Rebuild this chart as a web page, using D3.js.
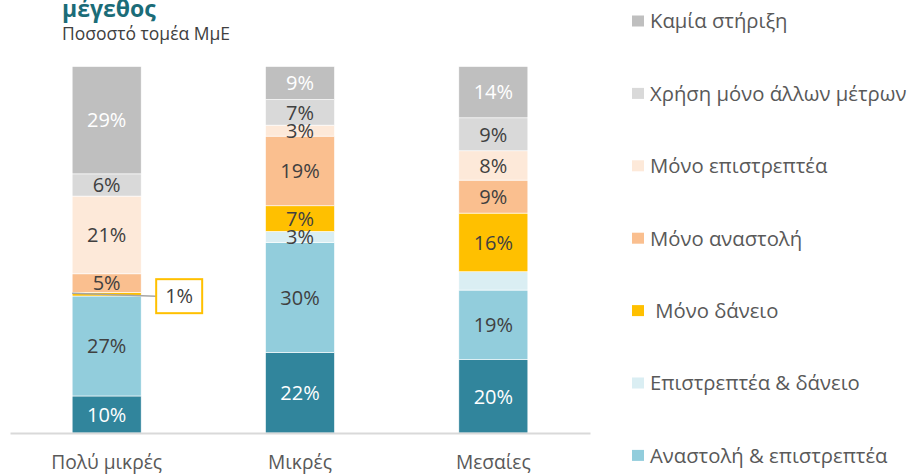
<!DOCTYPE html>
<html>
<head>
<meta charset="utf-8">
<script src="https://cdn.jsdelivr.net/npm/d3@7"></script>
<style>
  html, body { margin: 0; padding: 0; background: #fff; }
  svg { display: block; font-family: "Open Sans", "Noto Sans", sans-serif; }
</style>
</head>
<body>
<svg id="chart" width="917" height="476"></svg>
<script>
// ---- data ----
const categories = ["Πολύ μικρές", "Μικρές", "Μεσαίες"];
// series, bottom to top
const seriesNames = [
  "Αναστολή, επιστρεπτέα & δάνειο",
  "Αναστολή & επιστρεπτέα",
  "Επιστρεπτέα & δάνειο",
  "Μόνο δάνειο",
  "Μόνο αναστολή",
  "Μόνο επιστρεπτέα",
  "Χρήση μόνο άλλων μέτρων",
  "Καμία στήριξη"
];
const allThree      = [10, 22, 20];
const suspRefund    = [27, 30, 19];
const refundLoan    = [0, 3, 5];
const loanOnly      = [1, 7, 16];
const suspOnly      = [5, 19, 9];
const refundOnly    = [21, 3, 8];
const otherOnly     = [6, 7, 9];
const noSupport     = [29, 9, 14];
const seriesValues = [allThree, suspRefund, refundLoan, loanOnly, suspOnly, refundOnly, otherOnly, noSupport];
// labels not drawn inside the bars: [series index, category index]
const hiddenLabels = [[3, 0], [2, 2]];
// callout label
const callout = { series: 3, category: 0, text: "1%" };
// legend order (top to bottom); the last entry falls below the visible area
const legendOrder = [7, 6, 5, 4, 3, 2, 1];
const legendLabels = seriesNames.map((n, i) => i === 3 ? "\u00A0" + n : n);

// ---- styles ----
const colors = ["#31859C", "#92CDDC", "#DAEEF3", "#FFC000", "#FABF8F", "#FDE9D9", "#D9D9D9", "#BFBFBF"];
const labelColors = ["#ffffff", "#404040", "#404040", "#404040", "#404040", "#404040", "#404040", "#ffffff"];

const svg = d3.select("#chart");

// title
svg.append("text").attr("x", 62).attr("y", 17)
  .attr("font-size", 23).attr("font-weight", "bold").attr("fill", "#1B6C78")
  .text("μέγεθος");
svg.append("text").attr("x", 62).attr("y", 40)
  .attr("font-size", 17.5).attr("fill", "#404040")
  .text("Ποσοστό τομέα ΜμΕ");

// scales
const x = d3.scaleBand().domain(categories).range([10, 590])
  .paddingInner(0.643).paddingOuter(0.3215);
const y = d3.scaleLinear().domain([0, 1]).range([433, 66.5]);

const table = categories.map((c, ci) => {
  const row = { cat: c };
  seriesNames.forEach((s, si) => row[s] = seriesValues[si][ci]);
  return row;
});
const stack = d3.stack().keys(seriesNames).offset(d3.stackOffsetExpand);
const layers = stack(table);

const g = svg.append("g");
layers.forEach((layer, si) => {
  layer.forEach((d, ci) => {
    const val = seriesValues[si][ci];
    if (val <= 0) return;
    g.append("rect")
      .attr("x", x(categories[ci]))
      .attr("width", x.bandwidth())
      .attr("y", y(d[1]))
      .attr("height", y(d[0]) - y(d[1]))
      .attr("fill", colors[si])
      .attr("stroke", "#ffffff").attr("stroke-width", 0.6);
  });
});

// axis baseline
const xAxis = d3.axisBottom(x).tickSize(0).tickPadding(22);
const ax = svg.append("g").attr("transform", "translate(0,433)").call(xAxis);
ax.select(".domain").attr("stroke", "#D9D9D9").attr("stroke-width", 2);
ax.selectAll(".tick text").attr("font-size", 19.2).attr("fill", "#595959")
  .attr("font-family", "\"Open Sans\", sans-serif");

// labels
layers.forEach((layer, si) => {
  layer.forEach((d, ci) => {
    const val = seriesValues[si][ci];
    if (val <= 0) return;
    if (hiddenLabels.some(h => h[0] === si && h[1] === ci)) return;
    g.append("text")
      .attr("x", x(categories[ci]) + x.bandwidth() / 2)
      .attr("y", (y(d[0]) + y(d[1])) / 2)
      .attr("dy", "0.36em")
      .attr("text-anchor", "middle")
      .attr("font-size", 20)
      .attr("fill", labelColors[si])
      .text(val + "%");
  });
});

// callout
{
  const d = layers[callout.series][callout.category];
  const cy = (y(d[0]) + y(d[1])) / 2;
  const bx = x(categories[callout.category]);
  const boxX = bx + x.bandwidth() + 15, boxY = cy - 15, boxW = 46, boxH = 34;
  svg.append("line").attr("x1", bx).attr("y1", cy - 1)
    .attr("x2", boxX).attr("y2", cy + 2)
    .attr("stroke", "#A6A6A6").attr("stroke-width", 1.5);
  svg.append("rect").attr("x", boxX).attr("y", boxY).attr("width", boxW).attr("height", boxH)
    .attr("fill", "#fff").attr("stroke", "#FFC000").attr("stroke-width", 2);
  svg.append("text").attr("x", boxX + boxW / 2).attr("y", boxY + boxH / 2)
    .attr("dy", "0.36em").attr("text-anchor", "middle")
    .attr("font-size", 20).attr("fill", "#404040").text(callout.text);
}

// legend
const lg = svg.append("g");
legendOrder.forEach((si, i) => {
  const cy = 21 + i * 72.4;
  lg.append("rect").attr("x", 632).attr("y", cy - 5.5).attr("width", 12).attr("height", 11)
    .attr("fill", colors[si]);
  lg.append("text").attr("x", 650).attr("y", cy).attr("dy", "0.36em")
    .attr("font-size", 20.3).attr("fill", "#595959")
    .text(legendLabels[si]);
});
</script>
</body>
</html>
